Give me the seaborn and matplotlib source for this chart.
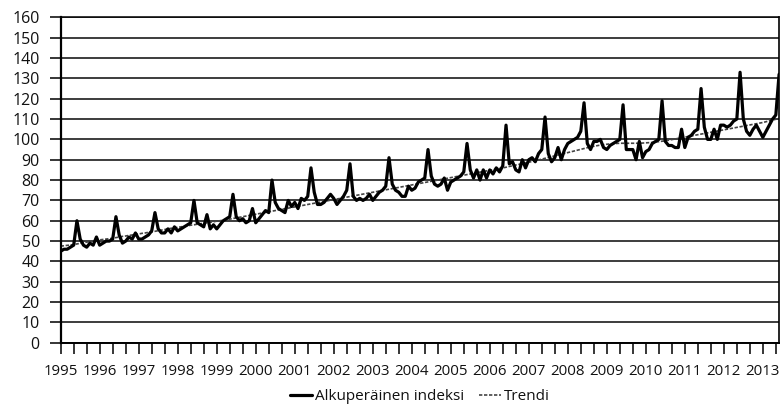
import matplotlib
matplotlib.use("Agg")
import matplotlib.pyplot as plt
import seaborn as sns
import pandas as pd
import numpy as np

# ---- data (monthly, Jan 1995 - Jun 2013) ----
years = [str(y) for y in range(1995, 2014)]

original = [
    45, 46, 46, 47, 48, 60, 51, 48, 47, 49, 48, 52,          # 1995
    48, 49, 50, 50, 51, 62, 53, 49, 50, 52, 51, 54,          # 1996
    51, 51, 52, 53, 55, 64, 56, 54, 54, 56, 54, 57,          # 1997
    55, 56, 57, 58, 59, 70, 59, 58, 57, 63, 56, 58,          # 1998
    56, 58, 60, 61, 62, 73, 62, 60, 61, 59, 60, 66,          # 1999
    59, 61, 63, 65, 64, 80, 69, 66, 65, 64, 70, 67,          # 2000
    69, 66, 71, 70, 72, 86, 74, 68, 68, 69, 71, 73,          # 2001
    71, 68, 70, 72, 75, 88, 72, 70, 71, 70, 71, 73,          # 2002
    70, 72, 74, 75, 77, 91, 78, 75, 74, 72, 72, 77,          # 2003
    75, 76, 79, 80, 81, 95, 82, 78, 77, 78, 81, 75,          # 2004
    79, 80, 81, 82, 84, 98, 85, 81, 85, 80, 85, 81,          # 2005
    85, 83, 86, 84, 87, 107, 88, 89, 85, 84, 90, 86,         # 2006
    90, 91, 89, 93, 95, 111, 93, 89, 91, 96, 90, 95,         # 2007
    98, 99, 100, 101, 104, 118, 98, 95, 99, 99, 100, 96,     # 2008
    95, 97, 98, 99, 100, 117, 95, 95, 95, 90, 99, 91,        # 2009
    94, 95, 98, 99, 100, 119, 99, 97, 97, 96, 96, 105,       # 2010
    96, 101, 102, 104, 105, 125, 106, 100, 100, 105, 100, 107,  # 2011
    107, 106, 107, 109, 110, 133, 110, 104, 102, 105, 107, 104,  # 2012
    101, 104, 107, 110, 112, 132,                            # 2013
]

trend = [
    47.5, 47.7, 47.9, 48.1, 48.3, 48.6, 48.9, 49.2, 49.5, 49.8, 50.1, 50.4,
    50.6, 50.8, 51.0, 51.2, 51.4, 51.7, 52.0, 52.3, 52.5, 52.8, 53.0, 53.3,
    53.5, 53.8, 54.0, 54.3, 54.5, 54.8, 55.1, 55.4, 55.7, 56.0, 56.3, 56.5,
    56.8, 57.0, 57.3, 57.5, 57.8, 58.0, 58.3, 58.5, 58.8, 59.0, 59.3, 59.5,
    59.8, 60.0, 60.3, 60.5, 60.8, 61.1, 61.4, 61.7, 62.0, 62.3, 62.6, 62.9,
    63.2, 63.5, 63.8, 64.1, 64.4, 64.7, 65.0, 65.3, 65.6, 65.9, 66.2, 66.5,
    66.8, 67.1, 67.4, 67.7, 68.0, 68.3, 68.6, 68.9, 69.2, 69.5, 69.8, 70.1,
    70.4, 70.7, 71.0, 71.3, 71.6, 71.9, 72.2, 72.5, 72.8, 73.1, 73.4, 73.7,
    74.0, 74.3, 74.6, 74.9, 75.2, 75.5, 75.8, 76.1, 76.4, 76.7, 77.0, 77.3,
    77.6, 77.9, 78.2, 78.5, 78.8, 79.1, 79.4, 79.7, 80.0, 80.3, 80.6, 80.9,
    81.2, 81.5, 81.8, 82.1, 82.4, 82.7, 83.0, 83.3, 83.6, 83.9, 84.2, 84.5,
    84.8, 85.1, 85.4, 85.7, 86.0, 86.3, 86.7, 87.0, 87.4, 87.7, 88.1, 88.4,
    88.8, 89.1, 89.5, 89.9, 90.3, 90.7, 91.1, 91.5, 91.9, 92.3, 92.7, 93.1,
    93.5, 93.9, 94.3, 94.7, 95.1, 95.5, 95.9, 96.3, 96.6, 96.9, 97.2, 97.4,
    97.6, 97.8, 97.9, 98.0, 98.1, 98.1, 98.1, 98.1, 98.1, 98.1, 98.1, 98.2,
    98.3, 98.4, 98.5, 98.7, 98.9, 99.1, 99.3, 99.6, 99.9, 100.2, 100.5, 100.8,
    101.1, 101.4, 101.7, 102.0, 102.3, 102.6, 102.9, 103.2, 103.5, 103.8, 104.1, 104.4,
    104.7, 105.0, 105.3, 105.6, 105.9, 106.2, 106.5, 106.8, 107.1, 107.4, 107.7, 108.0,
    108.3, 108.7, 109.1, 109.5, 109.9, 110.3,
]

series_names = ["Alkuperäinen indeksi", "Trendi"]
y_ticks = list(range(0, 161, 10))

# ---- build ----
n = len(original)
month_idx = np.arange(n)
df = pd.DataFrame({"month": np.concatenate([month_idx, month_idx]),
                   "value": original + trend,
                   "series": [series_names[0]] * n + [series_names[1]] * n})

sns.set_theme(style="white")
plt.rcParams['font.family'] = ['Open Sans', 'DejaVu Sans']

fig = plt.figure(figsize=(7.83, 4.13), dpi=100)
ax = fig.add_axes([0.0775, 0.170, 0.9175, 0.788])

for ax_y in y_ticks:
    ax.axhline(ax_y, color='#111111', lw=1.15, zorder=0)

sns.lineplot(data=df[df.series == series_names[1]], x="month", y="value",
             color='#444444', lw=1.2, ax=ax, label=series_names[1], zorder=2)
ax.lines[-1].set_dashes([2.0, 1.0])
sns.lineplot(data=df[df.series == series_names[0]], x="month", y="value",
             color='black', lw=2.3, ax=ax, label=series_names[0], zorder=3)

ax.set_xlim(0, n - 1)
ax.set_ylim(0, 160)
ax.set_yticks(y_ticks)
ax.set_yticklabels([str(v) for v in y_ticks], fontsize=11.5, color='#111111')

xt = list(range(0, n, 4))
ax.set_xticks(xt)
ax.set_xticklabels([years[i // 12] if i % 12 == 0 else "" for i in xt], fontsize=10.8,
                   color='#111111')
ax.tick_params(axis='x', direction='out', length=8, width=1.1, color='black', pad=7, bottom=True)
ax.tick_params(axis='y', direction='out', length=8, width=1.1, color='black', pad=7, left=True)
ax.set_xlabel("")
ax.set_ylabel("")

for side in ['left', 'bottom', 'right', 'top']:
    ax.spines[side].set_visible(True)
    ax.spines[side].set_color('black')
ax.spines['left'].set_linewidth(1.6)
ax.spines['bottom'].set_linewidth(1.4)
ax.spines['right'].set_linewidth(1.2)
ax.spines['top'].set_linewidth(1.1)

handles, labels = ax.get_legend_handles_labels()
order = [labels.index(series_names[0]), labels.index(series_names[1])]
leg = ax.legend([handles[i] for i in order], [labels[i] for i in order],
                loc='center', bbox_to_anchor=(0.5, -0.166), ncol=2, frameon=False,
                fontsize=11, handlelength=1.4, handletextpad=0.2, columnspacing=1.0)
for t in leg.get_texts():
    t.set_color('#111111')

fig.savefig("out.png", dpi=100)
